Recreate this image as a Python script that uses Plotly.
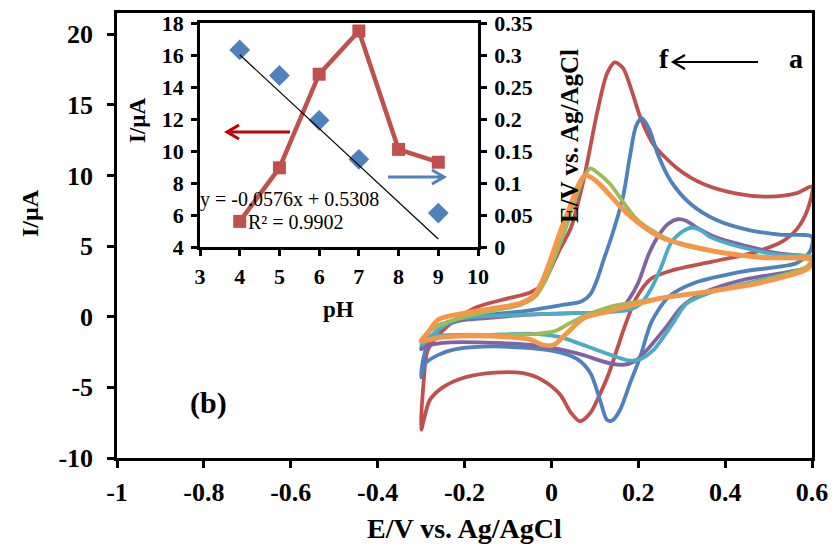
import plotly.graph_objects as go

# ---------------- Cyclic voltammograms (main panel) ----------------
# Each curve: forward scan -0.3 -> 0.6 V, then reverse scan back to -0.3 V
E_a = [-0.30, -0.295, -0.285, -0.26, -0.22, -0.17, -0.10, -0.05, -0.02, 0.00, 0.02, 0.045, 0.075, 0.105,
       0.128, 0.146, 0.165, 0.185, 0.205, 0.235, 0.29, 0.35, 0.43, 0.50, 0.565, 0.60,
       0.59, 0.565, 0.53, 0.46, 0.37, 0.28, 0.23, 0.195, 0.17, 0.15, 0.13, 0.11, 0.09, 0.066, 0.045,
       0.02, -0.02, -0.065, -0.13, -0.20, -0.25, -0.28, -0.30]
I_a = [-8.0, -5.0, -2.4, -1.3, -0.2, 0.7, 1.3, 1.7, 2.3, 3.5, 4.8, 6.3, 9.8, 14.4,
       17.2, 18.0, 17.6, 16.0, 14.1, 12.2, 10.5, 9.4, 8.7, 8.5, 8.75, 9.2,
       7.6, 6.2, 5.3, 4.5, 3.9, 3.3, 2.7, 1.3, -0.6, -2.4, -4.2, -5.6, -6.8, -7.4, -6.8,
       -5.5, -4.5, -4.0, -3.95, -4.3, -5.0, -5.9, -8.0]

E_b = [-0.30, -0.295, -0.28, -0.25, -0.20, -0.15, -0.05, 0.02, 0.07, 0.09, 0.105, 0.12, 0.14, 0.165,
       0.18, 0.195, 0.208, 0.225, 0.245, 0.275, 0.32, 0.38, 0.46, 0.53, 0.60,
       0.595, 0.565, 0.44, 0.33, 0.27, 0.23, 0.205, 0.18, 0.158, 0.14, 0.128, 0.112, 0.09, 0.06,
       0.0, -0.13, -0.22, -0.26, -0.29, -0.30]
I_b = [-4.3, -3.0, -1.6, -0.7, -0.2, 0.1, 0.45, 0.8, 1.1, 1.6, 2.6, 4.0, 5.8, 8.5,
       11.2, 13.5, 14.05, 13.3, 11.5, 9.6, 8.0, 6.85, 6.1, 5.8, 5.65,
       4.6, 3.8, 3.2, 2.4, 1.4, -0.4, -2.8, -4.8, -6.6, -7.35, -7.3, -5.9, -4.0, -3.0,
       -2.4, -2.1, -2.3, -2.7, -3.3, -4.3]

E_c = [-0.30, -0.28, -0.24, -0.15, -0.05, 0.05, 0.12, 0.16, 0.18, 0.20, 0.225, 0.25, 0.27, 0.29,
       0.31, 0.335, 0.38, 0.45, 0.52, 0.60,
       0.59, 0.55, 0.44, 0.35, 0.30, 0.265, 0.22, 0.19, 0.165, 0.135, 0.06, -0.02, -0.13, -0.25,
       -0.29, -0.30]
I_c = [-2.3, -1.0, -0.4, -0.1, 0.15, 0.25, 0.3, 0.6, 1.3, 2.4, 4.5, 5.9, 6.6, 6.9,
       6.8, 6.3, 5.6, 5.0, 4.5, 4.1,
       3.5, 3.2, 2.6, 1.7, 0.7, -0.7, -2.35, -3.2, -3.4, -3.3, -2.6, -2.1, -1.85, -1.85,
       -2.1, -2.3]

E_d = [-0.30, -0.28, -0.226, -0.10, 0.05, 0.135, 0.18, 0.205, 0.23, 0.25, 0.275, 0.30, 0.324,
       0.345, 0.365, 0.44, 0.52, 0.60,
       0.59, 0.48, 0.365, 0.31, 0.28, 0.235, 0.205, 0.18, 0.15, 0.10, 0.06, 0.02, -0.05, -0.15,
       -0.27, -0.30]
I_d = [-2.0, -1.45, -0.25, 0.1, 0.25, 0.33, 0.5, 0.9, 2.0, 3.3, 5.2, 6.0, 6.3,
       6.1, 5.65, 4.9, 4.4, 4.2,
       3.5, 2.6, 1.7, 0.9, -0.45, -2.35, -3.0, -3.1, -2.85, -2.3, -1.85, -1.45, -1.2, -1.3,
       -1.4, -2.0]

E_e = [-0.30, -0.275, -0.21, -0.13, -0.07, -0.035, -0.015, 0.005, 0.03, 0.055, 0.075, 0.09, 0.11,
       0.135, 0.20, 0.29, 0.40, 0.52, 0.60,
       0.59, 0.48, 0.365, 0.25, 0.135, 0.08, 0.04, 0.01, -0.03, -0.10, -0.20, -0.27, -0.30]
I_e = [-1.8, -0.9, -0.1, 0.45, 0.85, 1.5, 2.5, 4.0, 6.0, 8.3, 9.9, 10.5, 10.1,
       9.4, 6.8, 5.2, 4.5, 4.2, 4.2,
       3.6, 2.5, 1.8, 1.3, 0.7, 0.1, -0.5, -1.0, -1.2, -1.3, -1.35, -1.5, -1.8]

E_f = [-0.30, -0.285, -0.26, -0.21, -0.134, -0.072, -0.04, -0.02, 0.0, 0.02, 0.043, 0.06, 0.077,
       0.095, 0.12, 0.175, 0.25, 0.365, 0.48, 0.60,
       0.59, 0.48, 0.365, 0.25, 0.135, 0.075, 0.036, 0.005, -0.02, -0.05, -0.095, -0.17, -0.25, -0.30]
I_f = [-1.7, -1.15, -0.2, 0.2, 0.6, 0.95, 1.5, 2.6, 4.2, 6.0, 7.8, 9.2, 10.0,
       9.8, 9.1, 7.3, 5.65, 4.7, 4.2, 4.0,
       3.4, 2.4, 1.8, 1.3, 0.4, -0.1, -1.15, -2.0, -2.0, -1.6, -1.45, -1.35, -1.45, -1.7]

curves = [
    ("a", E_a, I_a, "#C0504D", 3.8),
    ("b", E_b, I_b, "#4F81BD", 3.8),
    ("c", E_c, I_c, "#8064A2", 3.8),
    ("d", E_d, I_d, "#4BACC6", 3.8),
    ("e", E_e, I_e, "#9BBB59", 3.8),
    ("f", E_f, I_f, "#F79646", 4.8),
]

# ---------------- pH study (inset) ----------------
ph_current = [4, 5, 6, 7, 8, 9]
ip_uA = [5.6, 8.95, 14.8, 17.5, 10.1, 9.3]
ph_potential = [4, 5, 6, 7, 9]
Ep_V = [0.308, 0.268, 0.198, 0.137, 0.053]
SLOPE, INTERCEPT, R2 = -0.0576, 0.5308, 0.9902

x_ticks_main = [-1, -0.8, -0.6, -0.4, -0.2, 0, 0.2, 0.4, 0.6]
x_ticktext_main = ["-1", "-0.8", "-0.6", "-0.4", "-0.2", "0", "0.2", "0.4", "0.6"]
y_ticks_main = [-10, -5, 0, 5, 10, 15, 20]
y_ticktext_main = ["-10", "-5", "0", "5", "10", "15", "20"]
y2_ticks_right = [0, 0.05, 0.1, 0.15, 0.2, 0.25, 0.3, 0.35]
y2_ticktext_right = ["0", "0.05", "0.1", "0.15", "0.2", "0.25", "0.3", "0.35"]

SERIF = "Liberation Serif, Times New Roman, serif"
W, H = 835, 557
PL, PR, PT, PB = 117, 812, 13, 458


def px(x):
    return (x - PL) / (PR - PL)


def py(y):
    return (PB - y) / (PB - PT)


fig = go.Figure()

for name, E, I, col, w in curves:
    fig.add_trace(go.Scatter(
        x=E, y=I, mode="lines", name=name,
        line=dict(color=col, width=w, shape="spline", smoothing=0.8),
        xaxis="x", yaxis="y", showlegend=False, hoverinfo="skip"))

# inset: peak current vs pH (left axis)
fig.add_trace(go.Scatter(
    x=ph_current, y=ip_uA, mode="lines+markers",
    line=dict(color="#C0504D", width=4.5),
    marker=dict(symbol="square", size=13, color="#C0504D"),
    xaxis="x2", yaxis="y2", showlegend=False, hoverinfo="skip"))

# inset: peak potential vs pH (right axis) with its linear fit
fig.add_trace(go.Scatter(
    x=ph_potential, y=Ep_V, mode="markers",
    marker=dict(symbol="diamond", size=16, color="#4F81BD"),
    xaxis="x2", yaxis="y3", showlegend=False, hoverinfo="skip"))
fit_x = [min(ph_potential), max(ph_potential)]
fit_y = [SLOPE * v + INTERCEPT for v in fit_x]
fig.add_trace(go.Scatter(
    x=fit_x, y=fit_y, mode="lines", line=dict(color="black", width=1.2),
    xaxis="x2", yaxis="y3", showlegend=False, hoverinfo="skip"))

axis_common = dict(showline=True, linecolor="black", mirror=True, ticks="outside",
                   tickcolor="black", showgrid=False, zeroline=False, automargin=False)

fig.update_layout(
    width=W, height=H,
    margin=dict(l=PL, r=W - PR, t=PT, b=H - PB, pad=0, autoexpand=False),
    paper_bgcolor="white", plot_bgcolor="white",
    showlegend=False,
    font=dict(family=SERIF, color="black"),
    xaxis=dict(domain=[0, 1], range=[-1, 0.6], tickvals=x_ticks_main, ticktext=x_ticktext_main,
               linewidth=2.5, tickwidth=2.5, ticklen=7, ticklabelstandoff=2,
               tickfont=dict(size=26, family=SERIF, weight="bold"), anchor="y", **axis_common),
    yaxis=dict(domain=[0, 1], range=[-10, 21.5], tickvals=y_ticks_main, ticktext=y_ticktext_main,
               linewidth=2.5, tickwidth=2.5, ticklen=7, ticklabelstandoff=9,
               tickfont=dict(size=26, family=SERIF, weight="bold"), anchor="x", **axis_common),
    xaxis2=dict(domain=[px(200), px(478)], range=[3, 10], dtick=1, anchor="y2",
                linewidth=2.5, tickwidth=2.5, ticklen=6, ticklabelstandoff=2,
                tickfont=dict(size=22, family=SERIF, weight="bold"), **axis_common),
    yaxis2=dict(domain=[py(247), py(23)], range=[4, 18], dtick=2, anchor="x2",
                linewidth=2.5, tickwidth=2.5, ticklen=6, ticklabelstandoff=3,
                tickfont=dict(size=22, family=SERIF, weight="bold"), **axis_common),
    yaxis3=dict(range=[0, 0.35], tickvals=y2_ticks_right, ticktext=y2_ticktext_right,
                overlaying="y2", side="right", anchor="x2",
                showline=True, linecolor="black", linewidth=2.5, ticks="outside",
                tickcolor="black", tickwidth=2.5, ticklen=6, ticklabelstandoff=3,
                showgrid=False, zeroline=False, automargin=False,
                tickfont=dict(size=22, family=SERIF, weight="bold")),
)

bold = lambda s: dict(size=s, family=SERIF, color="black", weight="bold")
annotations = [
    dict(x=px(465), y=py(528), text="E/V vs. Ag/AgCl", font=bold(28)),
    dict(x=px(30), y=py(213), text="I/µA", font=bold(24), textangle=-90),
    dict(x=px(137), y=py(120), text="I/µA", font=bold(23), textangle=-90),
    dict(x=px(338), y=py(309), text="pH", font=bold(23)),
    dict(x=px(569), y=py(136), text="E/V vs. Ag/AgCl", font=bold(25), textangle=-90),
    dict(x=px(208), y=py(403), text="(b)", font=bold(30)),
    dict(x=px(664), y=py(58), text="f", font=bold(28)),
    dict(x=px(796), y=py(58), text="a", font=bold(28)),
    dict(x=px(198), y=py(199), text=f"y = {SLOPE}x + {INTERCEPT}", xanchor="left",
         font=dict(size=20, family=SERIF, color="black")),
    dict(x=px(246), y=py(222), text=f"R² = {R2}", xanchor="left",
         font=dict(size=20, family=SERIF, color="black")),
]
for a in annotations:
    a.setdefault("xanchor", "center")
    fig.add_annotation(xref="paper", yref="paper", yanchor="middle", showarrow=False, **a)


def arrow_path(x0, x1, y, head=10, spread=7):
    # horizontal line from x0 to x1 with an open "V" head at x1
    d = 1 if x1 > x0 else -1
    return (f"M {px(x0)},{py(y)} L {px(x1)},{py(y)} "
            f"M {px(x1 - d * head)},{py(y - spread)} L {px(x1)},{py(y)} L {px(x1 - d * head)},{py(y + spread)}")


shapes = [
    dict(path=arrow_path(758, 673, 62, 12, 7), color="black", width=2.2),
    dict(path=arrow_path(290, 227, 132, 12, 7), color="#C00000", width=3),
    dict(path=arrow_path(388, 444, 177, 12, 7), color="#4F81BD", width=3),
]
for s in shapes:
    fig.add_shape(type="path", xref="paper", yref="paper", path=s["path"],
                  line=dict(color=s["color"], width=s["width"]))

fig.write_html("out.html")
